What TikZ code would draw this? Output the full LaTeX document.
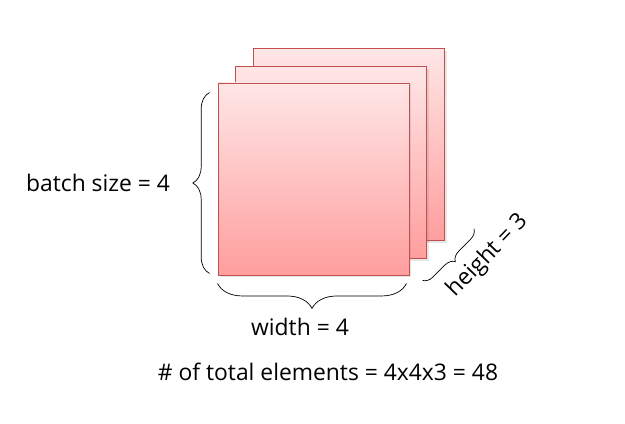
\documentclass[tikz,border=0pt]{standalone}
\usepackage{fontspec}
\setmainfont{Open Sans}
\usetikzlibrary{calc, positioning, shadows, decorations.pathreplacing}
\definecolor{sheetline}{HTML}{C0504D}
\definecolor{sheettop}{HTML}{FFE6E6}
\definecolor{sheetbottom}{HTML}{FF9E9E}

\tikzset{
  sheet/.style={rectangle, draw=sheetline, line width=0.8pt, top color=sheettop, bottom color=sheetbottom,
    minimum width=5.73cm, minimum height=5.76cm, inner sep=0pt,
    drop shadow={opacity=0.2, shadow xshift=2pt, shadow yshift=-2pt}},
  curly/.style={decorate, decoration={brace, amplitude=#1}, line width=0.6pt},
  label/.style={font=\fontsize{19.5}{23}\selectfont, inner sep=0pt}
}

\begin{document}
\begin{tikzpicture}[x=0.03cm, y=0.03cm]
  \useasboundingbox (0,0) rectangle (625,423);

  % the three stacked sheets, back to front
  \node[sheet] (back) at (349,278.7) {};
  \node[sheet] (middle) at (331,260.7) {};
  \node[sheet] (front) at (313.5,244) {};

  % braces
  \draw[curly=0.5cm] ([shift={(-8,2)}]front.south west) -- ([shift={(-8,-10)}]front.north west) coordinate[midway, xshift=-0.5cm] (btip);
  \draw[curly=0.75cm] ([shift={(-3,-8)}]front.south east) -- ([shift={(0,-8)}]front.south west) coordinate[midway, yshift=-0.75cm] (wtip);
  \draw[curly=0.3cm] ([shift={(29,12)}]back.south east) -- ([shift={(13,-5)}]front.south east) coordinate[midway] (hmid);

  % labels
  \node[label] (batch) at (98,240) {batch size = 4};
  \node[label] (width) at (300,96) {width = 4};
  \node[label, rotate=46] (height) at (488,167) {height = 3};
  \node[label] (total) at (328,51) {\# of total elements = 4x4x3 = 48};
\end{tikzpicture}
\end{document}
